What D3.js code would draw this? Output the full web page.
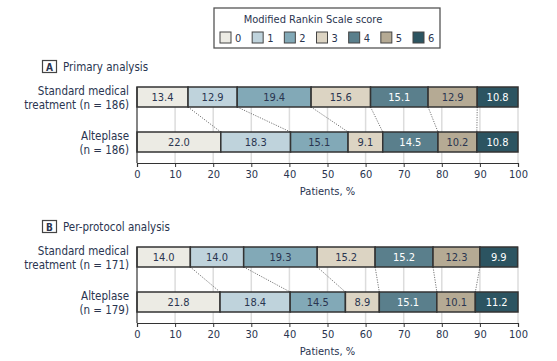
<!DOCTYPE html>
<html>
<head>
<meta charset="utf-8">
<script src="https://cdn.jsdelivr.net/npm/d3@7"></script>
<style>
  body { margin: 0; background: #fff; }
  svg text { font-family: "DejaVu Sans Condensed", "Liberation Sans Narrow", "Noto Sans", sans-serif; fill: #2a3550; }
</style>
</head>
<body>
<script>
var scores = ["0", "1", "2", "3", "4", "5", "6"];
var groupsA = ["Standard medical treatment (n = 186)", "Alteplase (n = 186)"];
var groupsB = ["Standard medical treatment (n = 171)", "Alteplase (n = 179)"];
var primaryStd = [13.4, 12.9, 19.4, 15.6, 15.1, 12.9, 10.8];
var primaryAlt = [22.0, 18.3, 15.1, 9.1, 14.5, 10.2, 10.8];
var protoStd = [14.0, 14.0, 19.3, 15.2, 15.2, 12.3, 9.9];
var protoAlt = [21.8, 18.4, 14.5, 8.9, 15.1, 10.1, 11.2];
var xTicks = [0, 10, 20, 30, 40, 50, 60, 70, 80, 90, 100];

var colors = ["#ecebe4", "#bfd3dc", "#82a9b7", "#dcd4c3", "#5a7f8c", "#b5aa94", "#2c5461"];
var lightText = ["4", "6"];

var width = 557, height = 361;
var svg = d3.select("body").append("svg")
    .attr("width", width).attr("height", height);

var x = d3.scaleLinear().domain([0, 100]).range([137, 518]);
var color = d3.scaleOrdinal().domain(scores).range(colors);

// legend
var legend = svg.append("g");
legend.append("rect").attr("x", 214).attr("y", 8).attr("width", 226).attr("height", 40)
    .attr("fill", "#fff").attr("stroke", "#555").attr("stroke-width", 1.3);
legend.append("text").attr("x", 313).attr("y", 23).attr("text-anchor", "middle")
    .style("font-size", "11px").text("Modified Rankin Scale score");
var lx = d3.scalePoint().domain(scores).range([220, 413]);
var li = legend.selectAll("g.item").data(scores).enter().append("g")
    .attr("transform", function(d){ return "translate(" + lx(d) + ",32)"; });
li.append("rect").attr("width", 11).attr("height", 11)
    .attr("fill", function(d){ return color(d); })
    .attr("stroke", "#444").attr("stroke-width", 1);
li.append("text").attr("x", 15).attr("y", 10).style("font-size", "11px").text(function(d){ return d; });

function panel(top, letter, title, groups, rows) {
  var g = svg.append("g");
  var y = d3.scaleBand().domain(groups).range([top + 27, top + 92]).paddingInner(25 / 45);
  var axisY = top + 103;

  // heading
  g.append("rect").attr("x", 42.5).attr("y", top + 0.5).attr("width", 14).attr("height", 12)
    .attr("fill", "#fff").attr("stroke", "#444").attr("stroke-width", 1.2);
  g.append("text").attr("x", 49.5).attr("y", top + 10.5).attr("text-anchor", "middle")
    .style("font-size", "10px").style("font-weight", "bold").text(letter);
  g.append("text").attr("x", 63).attr("y", top + 10.5).style("font-size", "11.5px").text(title);

  // gridlines
  g.selectAll("line.grid").data(xTicks.slice(1)).enter().append("line")
    .attr("x1", function(d){ return x(d); }).attr("x2", function(d){ return x(d); })
    .attr("y1", y.range()[0]).attr("y2", axisY)
    .attr("stroke", "#dcdcdc").attr("stroke-width", 1.5);

  // connectors between cumulative boundaries
  var cumTop = d3.cumsum(rows[0]), cumBot = d3.cumsum(rows[1]);
  var links = d3.range(6).map(function(i){ return [cumTop[i], cumBot[i]]; });
  g.selectAll("line.link").data(links).enter().append("line")
    .attr("x1", function(d){ return x(d[0]); }).attr("y1", y(groups[0]) + y.bandwidth())
    .attr("x2", function(d){ return x(d[1]); }).attr("y2", y(groups[1]))
    .attr("stroke", "#777").attr("stroke-width", 1).attr("stroke-dasharray", "1.2,1.3");

  // bars
  rows.forEach(function(vals, r){
    var cum = d3.cumsum(vals);
    var segs = vals.map(function(v, i){ return {k: scores[i], v: v, x0: cum[i] - v, x1: cum[i]}; });
    var row = g.append("g");
    row.selectAll("rect").data(segs).enter().append("rect")
      .attr("x", function(d){ return x(d.x0); })
      .attr("width", function(d){ return x(Math.min(d.x1, 100)) - x(d.x0); })
      .attr("y", y(groups[r])).attr("height", y.bandwidth())
      .attr("fill", function(d){ return color(d.k); })
      .attr("stroke", "#333").attr("stroke-width", 1.5);
    row.selectAll("text").data(segs).enter().append("text")
      .attr("x", function(d){ return (x(d.x0) + x(Math.min(d.x1, 100))) / 2; })
      .attr("y", y(groups[r]) + y.bandwidth() / 2 + 4)
      .attr("text-anchor", "middle").style("font-size", "11px")
      .style("fill", function(d){ return lightText.indexOf(d.k) >= 0 ? "#fff" : "#2a3550"; })
      .text(function(d){ return d.v.toFixed(1); });
  });

  // group labels
  groups.forEach(function(name){
    var parts = name.indexOf("Standard") === 0
      ? ["Standard medical", name.replace("Standard medical ", "")]
      : [name.split(" (")[0], "(" + name.split(" (")[1]];
    var t = g.append("text").attr("text-anchor", "end").style("font-size", "11.5px");
    parts.forEach(function(p, i){
      t.append("tspan").attr("x", 129).attr("y", y(name) + 8 + i * 14).text(p);
    });
  });

  // y axis line
  g.append("line").attr("x1", x(0)).attr("x2", x(0)).attr("y1", y.range()[0]).attr("y2", axisY)
    .attr("stroke", "#333").attr("stroke-width", 1.2);

  // x axis
  var ax = g.append("g").attr("transform", "translate(0," + axisY + ")")
    .call(d3.axisBottom(x).tickValues(xTicks).tickSize(4).tickPadding(3));
  ax.select(".domain").attr("stroke", "#333").attr("stroke-width", 1.2);
  ax.selectAll(".tick line").attr("stroke", "#333");
  ax.selectAll(".tick text").style("font-size", "11px").attr("fill", null)
    .style("font-family", '"DejaVu Sans Condensed", "Liberation Sans Narrow", sans-serif');
  g.append("text").attr("x", x(50)).attr("y", axisY + 32).attr("text-anchor", "middle")
    .style("font-size", "11px").text("Patients, %");
}

panel(60, "A", "Primary analysis", groupsA, [primaryStd, primaryAlt]);
panel(220, "B", "Per-protocol analysis", groupsB, [protoStd, protoAlt]);
</script>
</body>
</html>
